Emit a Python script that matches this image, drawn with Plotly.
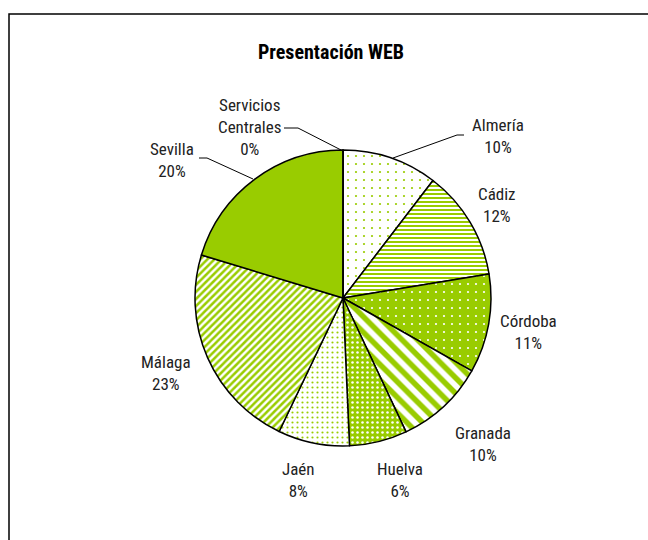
import plotly.graph_objects as go

# ---- data ----
categories = ["Almería", "Cádiz", "Córdoba", "Granada", "Huelva", "Jaén", "Málaga", "Sevilla", "Servicios Centrales"]
values = [10.4, 12.0, 10.8, 9.8, 6.3, 7.8, 22.6, 20.3, 0.0]
title_text = "Presentación WEB"

W, H = 648, 540
GREEN = "#99CC00"
FONT = "Liberation Sans Narrow, Roboto Condensed, Arial Narrow, Roboto, sans-serif"

def px(x):
    return x / W

def py(y):
    return 1 - y / H

# pie geometry (center 343,298 radius 148)
cx, cy, r = 343, 298, 148

shapes_pat = [".", "-", ".", "\\", ".", ".", "/", "", ""]
bg = ["white", "white", GREEN, "white", GREEN, "white", "white", GREEN, GREEN]
fg = [GREEN, GREEN, "white", GREEN, "white", GREEN, GREEN, GREEN, GREEN]
sizes = [8, 4, 8, 11, 5, 5, 5, 8, 8]
solid = [0.06, 0.5, 0.06, 0.5, 0.2, 0.15, 0.5, 0.5, 0.5]

fig = go.Figure(go.Pie(
    labels=categories, values=values, sort=False, direction="clockwise", rotation=0,
    textinfo="none", hoverinfo="label+percent", showlegend=False,
    marker=dict(
        colors=bg,
        line=dict(color="black", width=1.5),
        pattern=dict(shape=shapes_pat, fgcolor=fg, bgcolor=bg, size=sizes, solidity=solid,
                     fillmode="overlay", fgopacity=1),
    ),
    domain=dict(x=[px(cx - r), px(cx + r)], y=[py(cy + r), py(cy - r)]),
))

total = sum(values)
pcts = [f"{round(v / total * 100):.0f}%" for v in values]

# label positions (pixel centers)
label_pos = {
    "Almería": (498, 136),
    "Cádiz": (497, 205),
    "Córdoba": (528, 332),
    "Granada": (483, 444),
    "Huelva": (400, 480),
    "Jaén": (298, 480),
    "Málaga": (166, 373),
    "Sevilla": (172, 160),
}
lab_font = dict(family=FONT, size=17, color="#222")
annotations = []
for cat, p in zip(categories, pcts):
    if cat in label_pos:
        x, y = label_pos[cat]
        annotations.append(dict(x=px(x), y=py(y), xref="paper", yref="paper", showarrow=False,
                                xanchor="center", yanchor="middle",
                                text=f"{cat}<br>{p}", font=lab_font, align="center"))
sc = categories.index("Servicios Centrales")
annotations.append(dict(x=px(249), y=py(127), xref="paper", yref="paper", showarrow=False,
                        xanchor="center", yanchor="middle",
                        text=f"Servicios<br>Centrales<br>{pcts[sc]}", font=lab_font, align="center"))
annotations.append(dict(x=px(331), y=py(52), xref="paper", yref="paper", showarrow=False,
                        xanchor="center", yanchor="middle",
                        text=f"<b>{title_text}</b>", font=dict(family=FONT, size=20, color="black")))

line = dict(color="black", width=1)
shapes = [
    # frame
    dict(type="rect", xref="paper", yref="paper", x0=px(9), y0=-0.1, x1=1.1, y1=py(14),
         line=dict(color="black", width=1.5), fillcolor="rgba(0,0,0,0)", layer="below"),
    # leader lines
    dict(type="path", xref="paper", yref="paper",
         path=f"M {px(464)} {py(135)} L {px(457)} {py(135)} L {px(393)} {py(158)}", line=line),
    dict(type="path", xref="paper", yref="paper",
         path=f"M {px(284)} {py(128)} L {px(298)} {py(128)} L {px(343)} {py(151)}", line=line),
    dict(type="path", xref="paper", yref="paper",
         path=f"M {px(199)} {py(158)} L {px(207)} {py(158)} L {px(253)} {py(179)}", line=line),
]

fig.update_layout(
    width=W, height=H, margin=dict(l=0, r=0, t=0, b=0),
    paper_bgcolor="white", plot_bgcolor="white",
    annotations=annotations, shapes=shapes,
)
fig.write_html("out.html", config={"displayModeBar": False},
               post_script="document.body.style.margin='0';")
